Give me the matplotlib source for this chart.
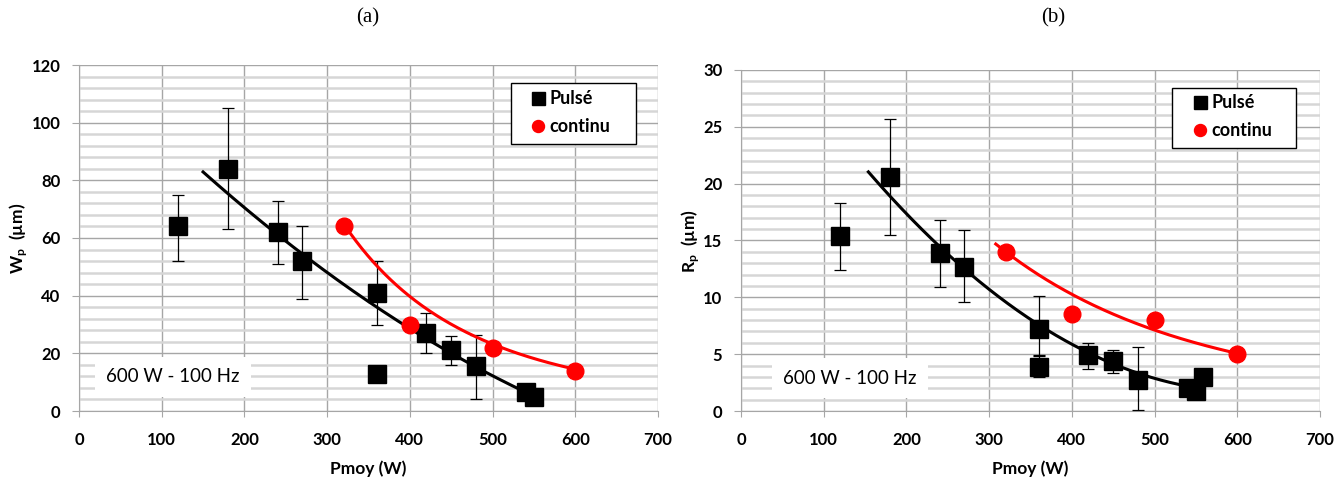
import numpy as np
import matplotlib
matplotlib.use("Agg")
import matplotlib.pyplot as plt
from matplotlib.ticker import MultipleLocator
from matplotlib.patches import Rectangle

plt.rcParams['font.family'] = ['Lato', 'DejaVu Sans']
plt.rcParams['mathtext.fontset'] = 'custom'
plt.rcParams['mathtext.rm'] = 'Lato:bold'
plt.rcParams['mathtext.it'] = 'Lato:bold'
plt.rcParams['mathtext.bf'] = 'Lato:bold'

# ---- data panel (a) ----
a_pulse_x = [120, 180, 240, 270, 360, 360, 420, 450, 480, 540, 550]
a_pulse_y = [64, 84, 62, 52, 41, 13, 27, 21, 15.5, 6.5, 5]
a_pulse_lo = [52, 63, 51, 39, 30, 12, 20, 16, 4, 6.5, 5]
a_pulse_hi = [75, 105, 73, 64, 52, 15.5, 34, 26, 26.5, 6.5, 5]
a_cont_x = [320, 400, 500, 600]
a_cont_y = [64, 30, 22, 14]
# trendlines
a_trend_pulse_x = [150, 240, 270, 360, 400, 480, 550]
a_trend_pulse_y = [83, 62.4, 52.6, 35.3, 30.6, 14.5, 5.2]
a_trend_cont_x = [321, 400, 500, 600]
a_trend_cont_y = [64.4, 39.9, 23.1, 14.5]

# ---- data panel (b) ----
b_pulse_x = [120, 180, 240, 270, 360, 360, 420, 450, 480, 540, 550, 558]
b_pulse_y = [15.4, 20.6, 13.9, 12.7, 7.2, 3.9, 4.9, 4.4, 2.7, 2.0, 1.8, 3.0]
b_pulse_lo = [12.4, 15.5, 10.9, 9.6, 4.9, 3.0, 3.7, 3.3, 0.1, 2.0, 1.8, 3.0]
b_pulse_hi = [18.3, 25.7, 16.8, 15.9, 10.1, 4.8, 6.0, 5.4, 5.6, 2.0, 1.8, 3.0]
b_cont_x = [320, 400, 500, 600]
b_cont_y = [14, 8.5, 8, 5]
b_trend_pulse_x = [154, 240, 270, 360, 420, 480, 536]
b_trend_pulse_y = [21.1, 14.3, 12.6, 7.5, 5.3, 3.3, 2.2]
b_trend_cont_x = [308, 400, 500, 600]
b_trend_cont_y = [14.8, 10.0, 7.35, 5.0]

W, H = 1343, 482
fig = plt.figure(figsize=(W / 100, H / 100), dpi=100)

major_col = '#a6a6a6'
minor_col = '#d6d6d6'


def px2ax(ax_rect, x_px, y_px):
    l, b, w, h = ax_rect
    fx = x_px / W
    fy = 1 - y_px / H
    return (fx - l) / w, (fy - b) / h


def smooth_trend(ax, tx, ty, color, loglog):
    tx = np.array(tx, float); ty = np.array(ty, float)
    xs = np.linspace(tx.min(), tx.max(), 200)
    if loglog:
        c = np.polyfit(np.log(tx), np.log(ty), 2)
        ys = np.exp(np.polyval(c, np.log(xs)))
    else:
        c = np.polyfit(tx, ty, 2)
        ys = np.polyval(c, xs)
    ax.plot(xs, ys, color=color, lw=2.2, zorder=4)


def panel(rect, px, py, plo, phi, cx, cy, tpx, tpy, tcx, tcy, ymax, ymaj, ymin,
          ylabel, textpos, legbox, leghandle):
    ax = fig.add_axes(rect)
    ax.set_xlim(0, 700)
    ax.set_ylim(0, ymax)
    ax.xaxis.set_major_locator(MultipleLocator(100))
    ax.yaxis.set_major_locator(MultipleLocator(ymaj))
    ax.yaxis.set_minor_locator(MultipleLocator(ymin))
    ax.grid(True, which='major', color=major_col, lw=1.0)
    ax.grid(True, which='minor', axis='y', color=minor_col, lw=1.8)
    ax.set_axisbelow(True)
    for s in ['top', 'right']:
        ax.spines[s].set_visible(False)
    for s in ['left', 'bottom']:
        ax.spines[s].set_color(major_col)
    ax.tick_params(axis='y', which='major', length=5, color=major_col, labelsize=12, pad=8.5)
    ax.tick_params(axis='x', which='major', length=4.3, color=major_col, labelsize=12, pad=10.5)
    ax.tick_params(which='minor', length=0)
    for lab in ax.get_xticklabels() + ax.get_yticklabels():
        lab.set_fontweight('bold')

    px_a = np.array(px, float); py_a = np.array(py, float)
    yerr = [py_a - np.array(plo), np.array(phi) - py_a]
    ax.errorbar(px_a, py_a, yerr=yerr, fmt='none', ecolor='black',
                elinewidth=0.9, capsize=4, capthick=0.9, zorder=3)

    smooth_trend(ax, tpx, tpy, 'black', False)
    smooth_trend(ax, tcx, tcy, 'red', True)

    ax.plot(px_a, py_a, 's', color='black', ms=13, zorder=5, label='Pulsé', ls='none')
    ax.plot(cx, cy, 'o', color='red', ms=12, zorder=5, label='continu', ls='none')

    # legend frame
    x0, y0 = px2ax(rect, legbox[0], legbox[3])
    x1, y1 = px2ax(rect, legbox[2], legbox[1])
    ax.add_patch(Rectangle((x0, y0), x1 - x0, y1 - y0, transform=ax.transAxes,
                           facecolor='white', edgecolor='black', lw=1.0, zorder=7))
    hx, hy = px2ax(rect, leghandle[0], leghandle[1])
    leg = ax.legend(loc='upper left', bbox_to_anchor=(hx, hy), frameon=False,
                    handletextpad=0.15, handlelength=1.0, markerscale=0.72,
                    borderpad=0, borderaxespad=0, labelspacing=0.62,
                    prop={'weight': 'bold', 'size': 13})
    leg.set_zorder(8)

    ax.text(textpos[0], textpos[1], '600 W - 100 Hz', fontsize=13.5,
            ha='center', va='center', zorder=6,
            bbox=dict(facecolor='white', edgecolor='none', pad=8))

    ax.set_xlabel('Pmoy (W)', fontsize=12.5, fontweight='bold', labelpad=9)
    ax.set_ylabel(ylabel, fontsize=12.5, fontweight='bold', labelpad=1)
    return ax


rect_a = [79 / W, 71 / H, 579 / W, 346 / H]
rect_b = [741 / W, 71 / H, 579 / W, 341 / H]
panel(rect_a, a_pulse_x, a_pulse_y, a_pulse_lo, a_pulse_hi, a_cont_x, a_cont_y,
      a_trend_pulse_x, a_trend_pulse_y, a_trend_cont_x, a_trend_cont_y,
      120, 20, 4, r'W$_\mathregular{p}$  (µm)',
      (113.6, 11.8), (511, 83, 636, 144), (529, 90))
panel(rect_b, b_pulse_x, b_pulse_y, b_pulse_lo, b_pulse_hi, b_cont_x, b_cont_y,
      b_trend_pulse_x, b_trend_pulse_y, b_trend_cont_x, b_trend_cont_y,
      30, 5, 1, r'R$_\mathregular{p}$  (µm)',
      (131.8, 2.9), (1172, 88, 1296, 148), (1191, 94))

fig.text(368 / W, 1 - 18 / H, '(a)', fontsize=15, family='Liberation Serif',
         ha='center', va='center')
fig.text(1053 / W, 1 - 18 / H, '(b)', fontsize=15, family='Liberation Serif',
         ha='center', va='center')

fig.savefig('out.png', dpi=100)
